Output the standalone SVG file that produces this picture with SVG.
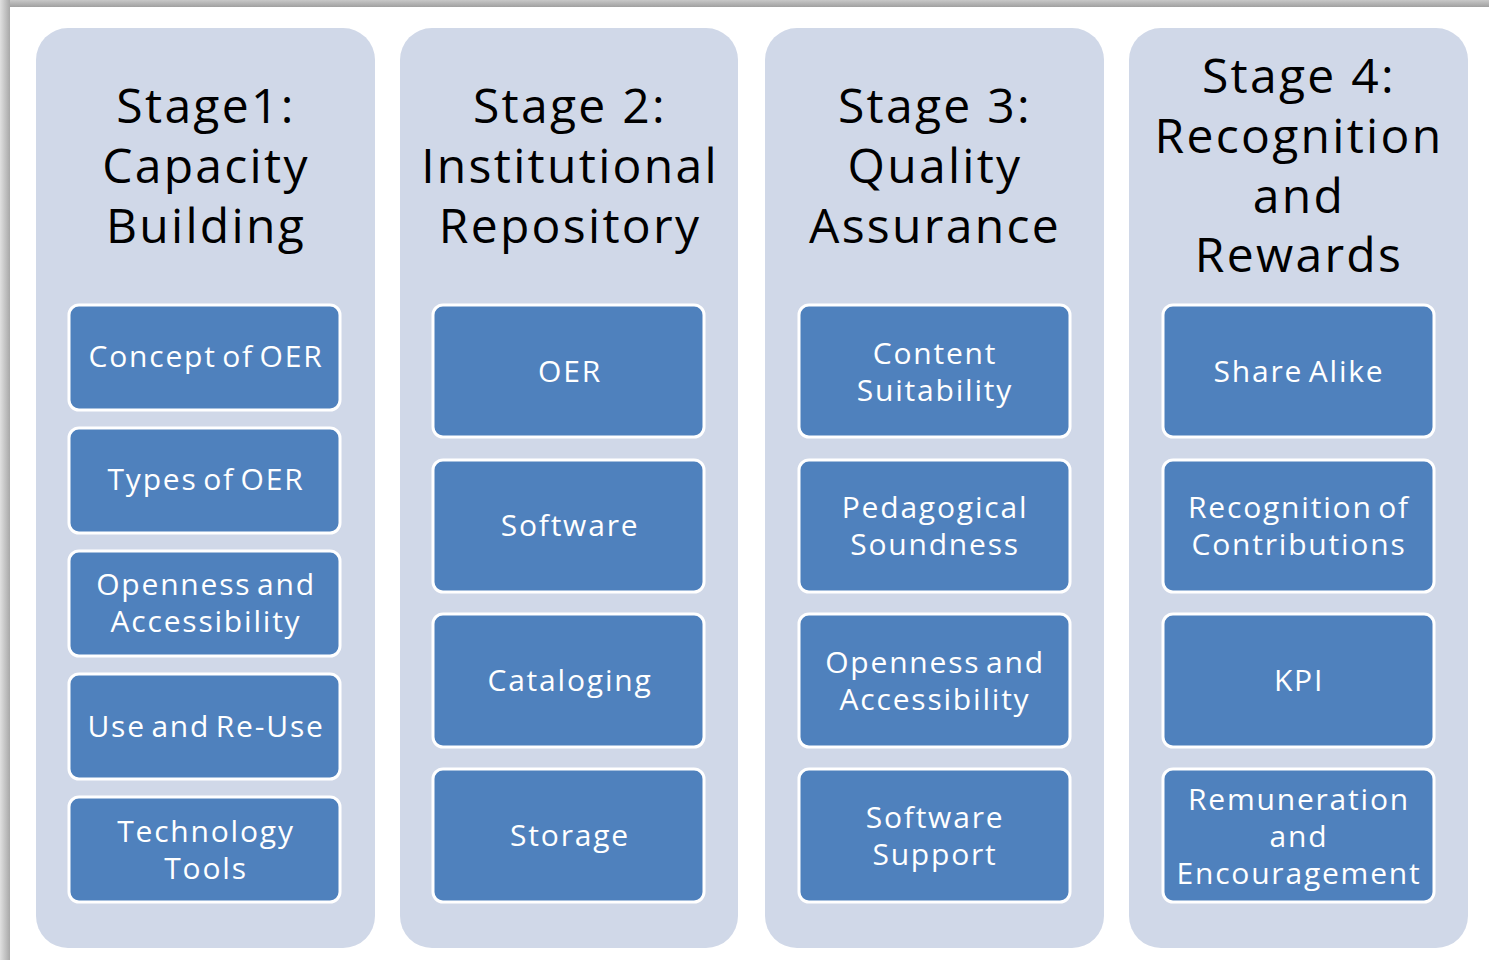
<svg xmlns="http://www.w3.org/2000/svg" width="1489" height="960" viewBox="0 0 1489 960">
<defs>
<linearGradient id="gt" x1="0" y1="0" x2="0" y2="1"><stop offset="0" stop-color="#c8c8c8"/><stop offset="1" stop-color="#a0a0a0"/></linearGradient>
<linearGradient id="gl" x1="0" y1="0" x2="1" y2="0"><stop offset="0" stop-color="#e0e0e0"/><stop offset="1" stop-color="#a8a8a8"/></linearGradient>
</defs>
<style>
.col{fill:#D0D8E8}
.box{fill:#4F81BD;stroke:#ffffff;stroke-width:3}
.ttl{font-family:"Open Sans","Noto Sans",sans-serif;font-size:48px;fill:#000;text-anchor:middle;letter-spacing:2.3px}
.lbl{font-family:"Open Sans","Noto Sans",sans-serif;font-size:30px;fill:#ffffff;text-anchor:middle;letter-spacing:1.8px;word-spacing:-4px}
</style>
<rect width="1489" height="960" fill="#ffffff"/>
<rect x="0" y="0" width="1489" height="7" fill="url(#gt)"/>
<rect x="0" y="0" width="10" height="960" fill="url(#gl)"/>

<g id="stage1">
<rect class="col" x="36" y="28" width="339" height="920" rx="32"/>
<text class="ttl" x="206" y="123">Stage1:</text>
<text class="ttl" x="206" y="183">Capacity</text>
<text class="ttl" x="206" y="243">Building</text>
</g>
<g id="s1-concept"><rect class="box" x="69" y="305" width="271" height="105" rx="10"/><text class="lbl" x="206" y="367">Concept of OER</text></g>
<g id="s1-types"><rect class="box" x="69" y="428" width="271" height="105" rx="10"/><text class="lbl" x="206" y="490">Types of OER</text></g>
<g id="s1-openness"><rect class="box" x="69" y="551" width="271" height="105" rx="10"/><text class="lbl" x="206" y="595">Openness and</text><text class="lbl" x="206" y="632">Accessibility</text></g>
<g id="s1-use"><rect class="box" x="69" y="674" width="271" height="105" rx="10"/><text class="lbl" x="206" y="737">Use and Re-Use</text></g>
<g id="s1-tech"><rect class="box" x="69" y="797" width="271" height="105" rx="10"/><text class="lbl" x="206" y="842">Technology</text><text class="lbl" x="206" y="879">Tools</text></g>

<g id="stage2">
<rect class="col" x="400" y="28" width="338" height="920" rx="32"/>
<text class="ttl" x="570" y="123">Stage 2:</text>
<text class="ttl" x="570" y="183">Institutional</text>
<text class="ttl" x="570" y="243">Repository</text>
</g>
<g id="s2-oer"><rect class="box" x="433" y="305" width="271" height="132" rx="10"/><text class="lbl" x="570" y="382">OER</text></g>
<g id="s2-software"><rect class="box" x="433" y="460" width="271" height="132" rx="10"/><text class="lbl" x="570" y="536">Software</text></g>
<g id="s2-cataloging"><rect class="box" x="433" y="614" width="271" height="133" rx="10"/><text class="lbl" x="570" y="691">Cataloging</text></g>
<g id="s2-storage"><rect class="box" x="433" y="769" width="271" height="133" rx="10"/><text class="lbl" x="570" y="846">Storage</text></g>

<g id="stage3">
<rect class="col" x="765" y="28" width="339" height="920" rx="32"/>
<text class="ttl" x="935" y="123">Stage 3:</text>
<text class="ttl" x="935" y="183">Quality</text>
<text class="ttl" x="935" y="243">Assurance</text>
</g>
<g id="s3-content"><rect class="box" x="799" y="305" width="271" height="132" rx="10"/><text class="lbl" x="935" y="364">Content</text><text class="lbl" x="935" y="401">Suitability</text></g>
<g id="s3-pedagogical"><rect class="box" x="799" y="460" width="271" height="132" rx="10"/><text class="lbl" x="935" y="518">Pedagogical</text><text class="lbl" x="935" y="555">Soundness</text></g>
<g id="s3-openness"><rect class="box" x="799" y="614" width="271" height="133" rx="10"/><text class="lbl" x="935" y="673">Openness and</text><text class="lbl" x="935" y="710">Accessibility</text></g>
<g id="s3-software"><rect class="box" x="799" y="769" width="271" height="133" rx="10"/><text class="lbl" x="935" y="828">Software</text><text class="lbl" x="935" y="865">Support</text></g>

<g id="stage4">
<rect class="col" x="1129" y="28" width="339" height="920" rx="32"/>
<text class="ttl" x="1299" y="93">Stage 4:</text>
<text class="ttl" x="1299" y="153">Recognition</text>
<text class="ttl" x="1299" y="213">and</text>
<text class="ttl" x="1299" y="272">Rewards</text>
</g>
<g id="s4-share"><rect class="box" x="1163" y="305" width="271" height="132" rx="10"/><text class="lbl" x="1299" y="382">Share Alike</text></g>
<g id="s4-recognition"><rect class="box" x="1163" y="460" width="271" height="132" rx="10"/><text class="lbl" x="1299" y="518">Recognition of</text><text class="lbl" x="1299" y="555">Contributions</text></g>
<g id="s4-kpi"><rect class="box" x="1163" y="614" width="271" height="133" rx="10"/><text class="lbl" x="1299" y="691">KPI</text></g>
<g id="s4-remuneration"><rect class="box" x="1163" y="769" width="271" height="133" rx="10"/><text class="lbl" x="1299" y="810">Remuneration</text><text class="lbl" x="1299" y="847">and</text><text class="lbl" x="1299" y="884">Encouragement</text></g>

<g id="connectors"></g>
</svg>
